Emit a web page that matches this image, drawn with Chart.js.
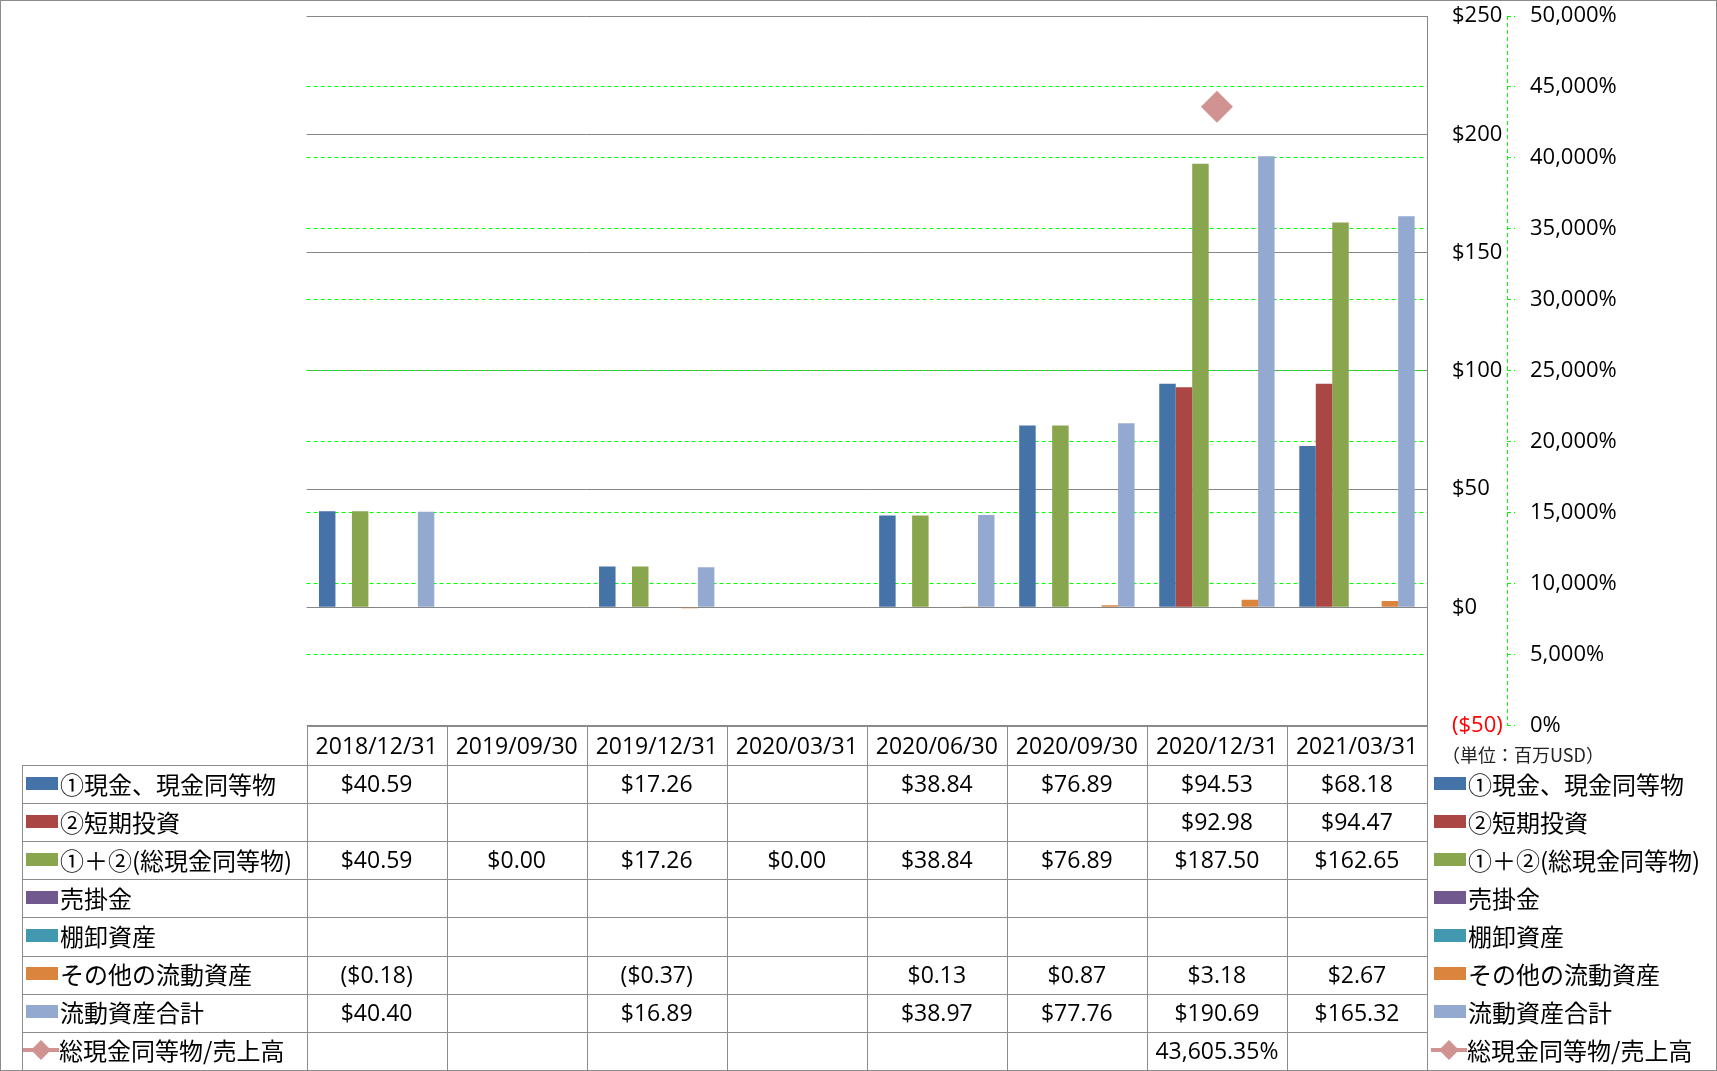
<!DOCTYPE html>
<html><head><meta charset="utf-8">
<script src="https://cdn.jsdelivr.net/npm/chart.js@4.4.0/dist/chart.umd.min.js"></script>
<style>
html,body{margin:0;padding:0;background:#fff;}
#wrap{position:relative;width:1717px;height:1071px;overflow:hidden;background:#fff;}
#c{position:absolute;left:0;top:0;width:1717px;height:1071px;}
.frame{position:absolute;left:0;top:0;width:1717px;height:1071px;box-sizing:border-box;border:1px solid #8c8c8c;pointer-events:none;}
.hl{position:absolute;height:1px;background:#8c8c8c;}
.vl{position:absolute;width:1px;background:#8c8c8c;}
.cell{position:absolute;display:flex;align-items:center;justify-content:center;font-family:"Open Sans",sans-serif;font-size:23px;color:#000;white-space:nowrap;}
.lg{position:absolute;display:flex;align-items:center;font-family:"Noto Sans CJK JP",sans-serif;font-size:24px;color:#000;white-space:nowrap;}
.sw{width:32px;height:13px;margin-right:2px;flex:none;}
.unit{position:absolute;font-family:"Noto Sans CJK JP",sans-serif;font-size:18px;color:#222;white-space:nowrap;}
</style></head>
<body><div id="wrap"><canvas id="c" width="1717" height="1071"></canvas><div id="tbl"></div><div class="frame"></div></div>
<script>
// ---- data ----
const categories = ['2018/12/31','2019/09/30','2019/12/31','2020/03/31','2020/06/30','2020/09/30','2020/12/31','2021/03/31'];
const seriesNames = ['①現金、現金同等物','②短期投資','①＋②(総現金同等物)','売掛金','棚卸資産','その他の流動資産','流動資産合計','総現金同等物/売上高'];
const cash         = [40.59, null, 17.26, null, 38.84, 76.89, 94.53, 68.18];
const shortInv     = [null, null, null, null, null, null, 92.98, 94.47];
const totalCash    = [40.59, 0.00, 17.26, 0.00, 38.84, 76.89, 187.50, 162.65];
const receivables  = [null, null, null, null, null, null, null, null];
const inventory    = [null, null, null, null, null, null, null, null];
const otherCurrent = [-0.18, null, -0.37, null, 0.13, 0.87, 3.18, 2.67];
const currentTotal = [40.40, null, 16.89, null, 38.97, 77.76, 190.69, 165.32];
const cashToSales  = [null, null, null, null, null, null, 43605.35, null];
const dollarMin = -50, dollarMax = 250, dollarStep = 50;
const pctMin = 0, pctMax = 50000, pctStep = 5000;
const unitLabel = '（単位：百万USD）';

// ---- styles ----
const seriesColors = ['#4572A7','#AA4643','#89A54E','#71588F','#4198AF','#DB843D','#93A9CF','#D19392'];
const gridGray = '#868686';
const green = '#00FF00';
const tickFont = {family:"'Open Sans', sans-serif", size:22};

const barSeries = [cash, shortInv, totalCash, receivables, inventory, otherCurrent, currentTotal];
const datasets = barSeries.map((d,i)=>({
  type:'bar', label:seriesNames[i], data:d, backgroundColor:seriesColors[i], borderWidth:0,
  yAxisID:'y', categoryPercentage:7/8.5, barPercentage:1, order:2
}));
datasets.push({
  type:'line', label:seriesNames[7], data:cashToSales, yAxisID:'p',
  borderColor:seriesColors[7], backgroundColor:seriesColors[7], showLine:false,
  pointStyle:'rectRot', pointRadius:16, pointBorderWidth:0, pointHoverRadius:16, order:1
});

const fmtMoney = v => v==null ? '' : (v<0 ? '($'+(-v).toFixed(2)+')' : '$'+v.toFixed(2));
const fmtPct = v => v==null ? '' : v.toLocaleString('en-US',{minimumFractionDigits:2,maximumFractionDigits:2})+'%';

const axisLinePlugin = {
  id:'pAxisLine',
  afterDraw(chart){
    const s = chart.scales.p, ctx = chart.ctx;
    ctx.save();
    ctx.strokeStyle = green; ctx.lineWidth = 1; ctx.setLineDash([4,3]);
    const x = Math.round(s.left)+0.5;
    ctx.beginPath(); ctx.moveTo(x, s.top); ctx.lineTo(x, s.bottom); ctx.stroke();
    ctx.restore();
  }
};
function fitAxis(w){ return s=>{ s.width=w; s.paddingTop=0; s.paddingBottom=0; }; }

const chart = new Chart(document.getElementById('c'), {
  type:'bar',
  data:{labels:categories, datasets},
  options:{
    responsive:false, animation:false, devicePixelRatio:1,
    layout:{padding:{left:306.6, top:15, right:0, bottom:345.5}},
    plugins:{legend:{display:false}, tooltip:{enabled:false}, title:{display:false}},
    scales:{
      x:{type:'category', display:false, offset:true, grid:{display:false}},
      y:{type:'linear', position:'right', weight:0, min:dollarMin, max:dollarMax,
         ticks:{stepSize:dollarStep, padding:25, font:tickFont,
                color:ctx=> ctx.tick && ctx.tick.value<0 ? '#FF0000' : '#000000',
                callback:v=> v<0 ? '($'+(-v)+')' : '$'+v},
         grid:{color:gridGray, lineWidth:1, drawTicks:false, tickLength:0},
         border:{display:true, color:gridGray, width:1},
         afterFit:fitAxis(80)},
      p:{type:'linear', position:'right', weight:1, min:pctMin, max:pctMax,
         ticks:{stepSize:pctStep, padding:15, font:tickFont, color:'#000000',
                callback:v=> v.toLocaleString('en-US')+'%'},
         grid:{color:ctx=> (ctx.tick && (ctx.tick.value===pctMin||ctx.tick.value===pctMax)) ? 'rgba(0,0,0,0)' : green,
               lineWidth:1, drawTicks:true, tickLength:8, tickColor:green, tickBorderDash:[4,3]},
         border:{display:false, dash:[4,3]},
         afterFit:fitAxis(210)}
    }
  },
  plugins:[axisLinePlugin]
});

// ---- data table under the chart ----
const tbl = document.getElementById('tbl');
function add(h){ tbl.insertAdjacentHTML('beforeend', h); }
function hl(x1,x2,y){ const a=Math.round(x1), b=Math.round(x2); add(`<div class="hl" style="left:${a}px;top:${Math.round(y)}px;width:${b-a+1}px"></div>`); }
function vl(x,y1,y2){ const a=Math.round(y1), b=Math.round(y2); add(`<div class="vl" style="left:${Math.round(x)}px;top:${a}px;height:${b-a+1}px"></div>`); }
function box(cls,x1,x2,y1,y2,inner){ add(`<div class="${cls}" style="left:${x1}px;top:${y1}px;width:${x2-x1}px;height:${y2-y1}px">${inner}</div>`); }

const xs = chart.scales.x, area = chart.chartArea;
const n = categories.length;
const colW = (xs.right - xs.left)/n;
const colX = i => xs.left + i*colW;
const headTop = area.bottom, headBot = 765, rowH = 38.1;
const rowY = k => headBot + k*rowH;
const legL = 22;
const rows = [cash, shortInv, totalCash, receivables, inventory, otherCurrent, currentTotal, cashToSales];

hl(colX(0), colX(n), headTop);
for(let k=0;k<=rows.length;k++) hl(legL, colX(n), rowY(k));
vl(legL, rowY(0), rowY(rows.length));
for(let i=0;i<=n;i++) vl(colX(i), headTop, rowY(rows.length));

categories.forEach((c,i)=> box('cell', colX(i), colX(i+1), headTop, headBot, c));
rows.forEach((r,k)=>{
  const f = k===7 ? fmtPct : fmtMoney;
  r.forEach((v,i)=> box('cell', colX(i), colX(i+1), rowY(k)-1, rowY(k+1)-1, f(v)));
});

function icon(k){
  if(k<7) return `<div class="sw" style="background:${seriesColors[k]}"></div>`;
  const c = seriesColors[7];
  return `<svg width="36" height="22" style="flex:none;margin-right:0px"><line x1="0" y1="11" x2="36" y2="11" stroke="${c}" stroke-width="4"/><polygon points="18,1 28,11 18,21 8,11" fill="${c}"/></svg>`;
}
seriesNames.forEach((name,k)=>{
  const left = k<7 ? 26 : 23;
  box('lg', left, 306, rowY(k)-1, rowY(k+1)-1, icon(k)+`<span>${name}</span>`);
  const rl = k<7 ? 1434 : 1431;
  box('lg', rl, 1716, rowY(k)-1, rowY(k+1)-1, icon(k)+`<span>${name}</span>`);
});
add(`<div class="unit" style="left:1442px;top:741px">${unitLabel}</div>`);
</script>
</body></html>
